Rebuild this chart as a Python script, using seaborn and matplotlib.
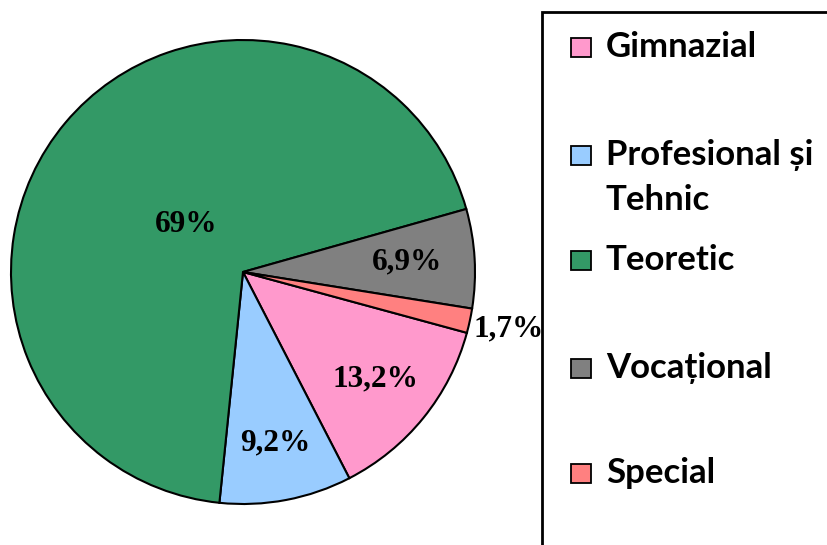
import numpy as np
import matplotlib
matplotlib.use("Agg")
import matplotlib.pyplot as plt
import seaborn as sns
from matplotlib.patches import Rectangle

sns.set_theme(style="white")

categories = ["Gimnazial", "Profesional și\nTehnic", "Teoretic", "Vocațional", "Special"]
values = [13.2, 9.2, 69.0, 6.9, 1.7]
value_labels = ["13,2%", "9,2%", "69%", "6,9%", "1,7%"]
colors = ["#FF99CC", "#99CCFF", "#339966", "#808080", "#FF8080"]
label_radii = [0.735, 0.75, 0.32, 0.71, 1.17]

W, H = 828, 545
fig = plt.figure(figsize=(W / 100, H / 100), dpi=100)
fig.patch.set_facecolor("white")

cx, cy, R = 243, 272, 232
ax = fig.add_axes([(cx - R) / W, (H - cy - R) / H, 2 * R / W, 2 * R / H])
wedges, _ = ax.pie(values, colors=colors, startangle=-15.2, counterclock=False,
                   radius=1.0, wedgeprops=dict(edgecolor="black", linewidth=1.5))
ax.set_xlim(-1, 1)
ax.set_ylim(-1, 1)
ax.set_aspect("equal")
ax.axis("off")

for w, lab, r in zip(wedges, value_labels, label_radii):
    th = np.deg2rad((w.theta1 + w.theta2) / 2)
    ax.text(r * np.cos(th), r * np.sin(th), lab, ha="center", va="center",
            fontsize=22.5, fontweight="bold", family="Liberation Serif",
            color="black", clip_on=False)

# legend box (extends beyond the figure edge)
fig.patches.append(Rectangle((542 / W, -0.1), 1.0, (H - 12) / H + 0.1,
                             transform=fig.transFigure, facecolor="white",
                             edgecolor="black", linewidth=2, zorder=0))

legend_y = [47, 155, 260, 368, 473]
for lab, col, yc in zip(categories, colors, legend_y):
    fig.patches.append(Rectangle((571 / W, (H - yc - 10) / H), 20 / W, 19 / H,
                                 transform=fig.transFigure, facecolor=col,
                                 edgecolor="black", linewidth=1.3, zorder=2))
    lines = lab.split("\n")
    for i, line in enumerate(lines):
        fig.text(606 / W, (H - yc - 45 * i) / H, line, ha="left", va="center",
                 fontsize=25, fontweight="bold", family="Lato", color="black")

fig.savefig("out.png", dpi=100, facecolor="white")
